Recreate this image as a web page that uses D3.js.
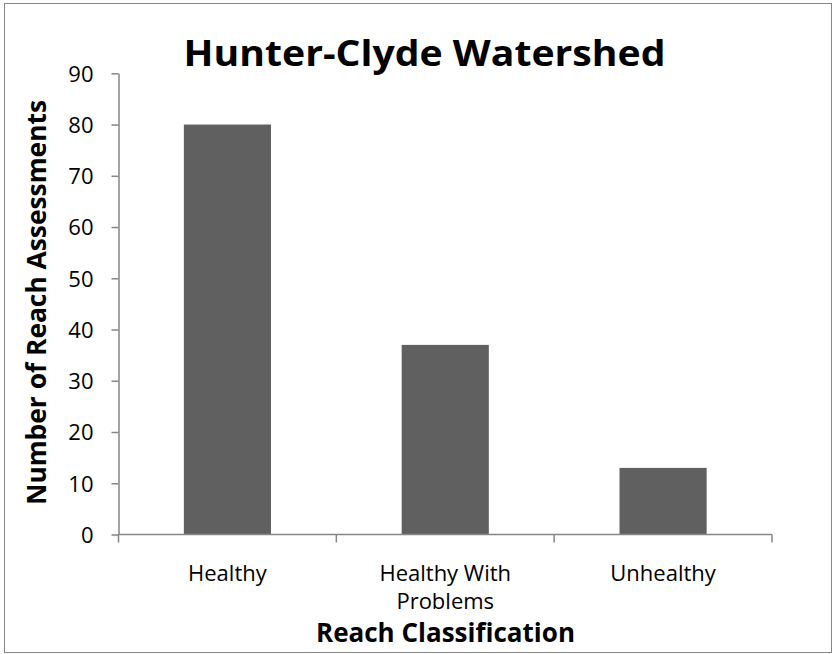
<!DOCTYPE html>
<html><head><meta charset="utf-8">
<script src="https://cdn.jsdelivr.net/npm/d3@7"></script>
<style>body{margin:0;background:#fff}svg{display:block}</style>
</head><body>
<script>
const categories = ["Healthy", "Healthy With Problems", "Unhealthy"];
const categoryLines = [["Healthy"], ["Healthy With", "Problems"], ["Unhealthy"]];
const values = [80, 37, 13];
const yTicks = [0, 10, 20, 30, 40, 50, 60, 70, 80, 90];
const title = "Hunter-Clyde Watershed";
const xTitle = "Reach Classification";
const yTitle = "Number of Reach Assessments";

(function () {
const W = 836, H = 654;
const font = "'Open Sans', 'Noto Sans', sans-serif";
const svg = d3.select("body").append("svg").attr("width", W).attr("height", H);
svg.append("rect").attr("x", 4.5).attr("y", 3.5).attr("width", 827).attr("height", 649)
  .attr("fill", "#fff").attr("stroke", "#868686").attr("stroke-width", 1);

const pLeft = 118.5, pRight = 772, pTop = 73.3, pBottom = 534.5;
const x = d3.scaleBand().domain(categories).range([pLeft, pRight]).paddingInner(0.6).paddingOuter(0.3);
const y = d3.scaleLinear().domain([0, 90]).range([pBottom, pTop]);

svg.append("g").selectAll("rect").data(values).join("rect")
  .attr("x", (d, i) => x(categories[i])).attr("width", x.bandwidth())
  .attr("y", d => y(d)).attr("height", d => y(0) - y(d)).attr("fill", "#606060");

// y axis
const ya = svg.append("g").attr("transform", `translate(${pLeft},0)`)
  .call(d3.axisLeft(y).tickValues(yTicks).tickSize(7).tickPadding(18).tickSizeOuter(0));
ya.select(".domain").attr("stroke", "#868686").attr("stroke-width", 1.5);
ya.selectAll(".tick line").attr("stroke", "#868686").attr("stroke-width", 1.5);
ya.selectAll(".tick text").attr("font-family", font).attr("font-size", 22).attr("fill", "#000").attr("dy", "0.36em");

// x axis
svg.append("line").attr("x1", pLeft).attr("x2", pRight).attr("y1", pBottom).attr("y2", pBottom)
  .attr("stroke", "#868686").attr("stroke-width", 1.5);
const bounds = categories.map(c => x(c) - x.step() * x.paddingInner() / 2).concat([pRight]);
bounds[0] = pLeft;
svg.append("g").selectAll("line").data(bounds).join("line")
  .attr("x1", d => d).attr("x2", d => d).attr("y1", pBottom).attr("y2", pBottom + 8)
  .attr("stroke", "#868686").attr("stroke-width", 1.5);

const xl = svg.append("g").selectAll("text").data(categories).join("text")
  .attr("x", d => x(d) + x.bandwidth() / 2).attr("y", 581)
  .attr("text-anchor", "middle").attr("font-family", font).attr("font-size", 22).attr("fill", "#000");
xl.each(function(d, i) {
  const t = d3.select(this);
  categoryLines[i].forEach((ln, j) => t.append("tspan").attr("x", x(d) + x.bandwidth() / 2).attr("dy", j ? 28 : 0).text(ln));
});

svg.append("text").attr("x", 424.5).attr("y", 66).attr("text-anchor", "middle")
  .attr("font-family", font).attr("font-weight", "bold").attr("font-size", 36)
  .attr("textLength", 482).attr("lengthAdjust", "spacingAndGlyphs").text(title);
svg.append("text").attr("x", 445.5).attr("y", 642).attr("text-anchor", "middle")
  .attr("font-family", font).attr("font-weight", "bold").attr("font-size", 27)
  .attr("textLength", 259).attr("lengthAdjust", "spacingAndGlyphs").text(xTitle);
svg.append("text").attr("transform", "translate(46,302.5) rotate(-90)").attr("text-anchor", "middle")
  .attr("font-family", font).attr("font-weight", "bold").attr("font-size", 26)
  .attr("textLength", 405).attr("lengthAdjust", "spacingAndGlyphs").text(yTitle);
})();
</script>
</body></html>
